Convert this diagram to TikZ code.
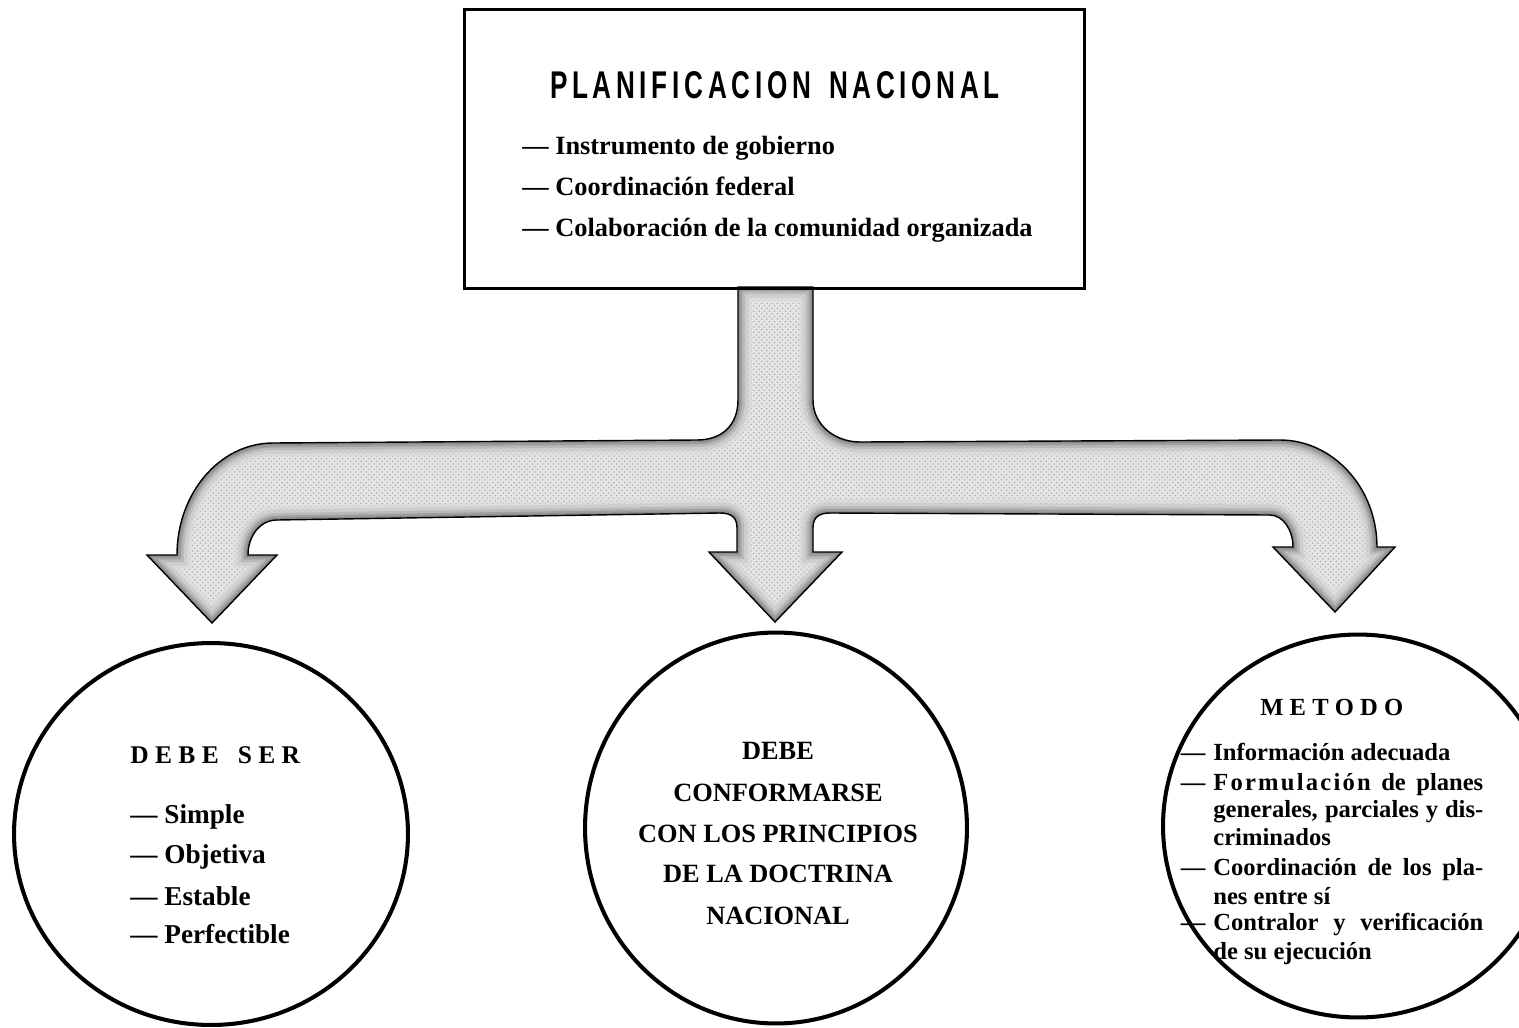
\documentclass[tikz,border=0pt]{standalone}
\usepackage{fontspec}
\usepackage{graphicx}
\setmainfont{Liberation Serif}
\newfontfamily\titlefont[LetterSpace=18]{Liberation Sans}
\usetikzlibrary{patterns,shapes.geometric}
\begin{document}
\begin{tikzpicture}[x=0.02cm,y=-0.02cm,
  frame/.style={draw=black,line width=1.8pt},
  ring/.style={draw=black,line width=2.3pt,ellipse,inner sep=0pt},
  boxitem/.style={font=\bfseries\fontsize{15}{17}\selectfont,anchor=base west,inner sep=0pt},
  seritem/.style={font=\bfseries\fontsize{15.5}{18}\selectfont,anchor=base west,inner sep=0pt},
  midline/.style={font=\bfseries\fontsize{15}{18}\selectfont,anchor=base,inner sep=0pt},
  metitem/.style={font=\bfseries\fontsize{14}{16}\selectfont,anchor=base west,inner sep=0pt},
  heading/.style={font=\bfseries\fontsize{14.5}{17}\selectfont,inner sep=0pt}]
\useasboundingbox (0,0) rectangle (1519,1028);
\clip (0,0) rectangle (1519,1028);
\fill[white] (0,0) rectangle (1519,1028);

\def\arrowpath{(738,287) -- (813,287) -- (813,400)
 .. controls (813,425) and (835,442) .. (860,442) -- (1280,440)
 .. controls (1333,440) and (1377,488) .. (1377,547) -- (1395,547) -- (1335,612) -- (1273,547) -- (1293,547)
 .. controls (1293,530) and (1283,515) .. (1270,515) -- (830,513)
 .. controls (818,513) and (813,518) .. (813,528) -- (813,552) -- (842,552) -- (775,622) -- (709,552) -- (737,552) -- (737,528)
 .. controls (737,518) and (732,513) .. (720,513) -- (277,520)
 .. controls (260,520) and (248,536) .. (248,555) -- (277,555) -- (212,623) -- (147,555) -- (177,555)
 .. controls (177,493) and (220,443) .. (273,443) -- (697,440)
 .. controls (722,440) and (738,425) .. (738,400) -- cycle}

% big branching arrow with shaded, stippled fill
\fill[gray!20] \arrowpath;
\fill[pattern=crosshatch dots, pattern color=gray!60] \arrowpath;
\begin{scope}
  \clip \arrowpath;
  \draw[line width=16pt, gray!30, opacity=0.6] \arrowpath;
  \draw[line width=12pt, gray!45, opacity=0.6] \arrowpath;
  \draw[line width=8pt, gray!60, opacity=0.7] \arrowpath;
  \draw[line width=5pt, gray!75] \arrowpath;
  \draw[line width=2.5pt, gray!90] \arrowpath;
\end{scope}
\draw[line width=0.8pt] \arrowpath;

% top box
\node (plan) [frame, minimum width=12.4cm, minimum height=5.58cm, anchor=north west] at (463,8) {};
\node (title) [anchor=base, inner sep=0pt] at (775,98)
  {\resizebox{9cm}{0.54cm}{\titlefont\bfseries PLANIFICACION\hspace{0.7em}NACIONAL}};
\node (p1) [boxitem] at (522,154) {— Instrumento de gobierno};
\node (p2) [boxitem] at (522,195) {— Coordinación federal};
\node (p3) [boxitem] at (522,236) {— Colaboración de la comunidad organizada};

% circles
\node (ser) [ring, minimum width=7.88cm, minimum height=7.64cm] at (211,834) {};
\node (doc) [ring, minimum width=7.64cm, minimum height=7.82cm] at (776,828) {};
\node (met) [ring, minimum width=7.8cm, minimum height=7.66cm] at (1358,826) {};

% left circle text
\node (serh) [heading, anchor=base west] at (130,763) {D E B E\hspace{0.38cm}S E R};
\node (s1) [seritem] at (130,823) {— Simple};
\node (s2) [seritem] at (130,863) {— Objetiva};
\node (s3) [seritem] at (130,905) {— Estable};
\node (s4) [seritem] at (130,943) {— Perfectible};

% middle circle text
\node (d1) [midline] at (778,759) {DEBE};
\node (d2) [midline] at (778,801) {CONFORMARSE};
\node (d3) [midline] at (778,842) {CON LOS PRINCIPIOS};
\node (d4) [midline] at (778,882) {DE LA DOCTRINA};
\node (d5) [midline] at (778,924) {NACIONAL};

% right circle text
\node (meth) [heading, anchor=base west, font=\bfseries\fontsize{14}{16}\selectfont] at (1260,715) {M E T O D O};
\node (m1) [metitem] at (1213,760) {\llap{—\hspace{0.16cm}}Información adecuada};
\node (m2) [metitem] at (1213,790) {\llap{—\hspace{0.16cm}}\makebox[5.4cm][s]{{\addfontfeature{LetterSpace=9}Formulación} de planes}};
\node (m3) [metitem] at (1213,817) {\makebox[5.4cm][s]{generales, parciales y dis-}};
\node (m4) [metitem] at (1213,845) {criminados};
\node (m5) [metitem] at (1213,875) {\llap{—\hspace{0.16cm}}\makebox[5.4cm][s]{Coordinación de los pla-}};
\node (m6) [metitem] at (1213,904) {nes entre sí};
\node (m7) [metitem] at (1213,930) {\llap{—\hspace{0.16cm}}\makebox[5.4cm][s]{Contralor y verificación}};
\node (m8) [metitem] at (1213,959) {de su ejecución};
\end{tikzpicture}
\end{document}
